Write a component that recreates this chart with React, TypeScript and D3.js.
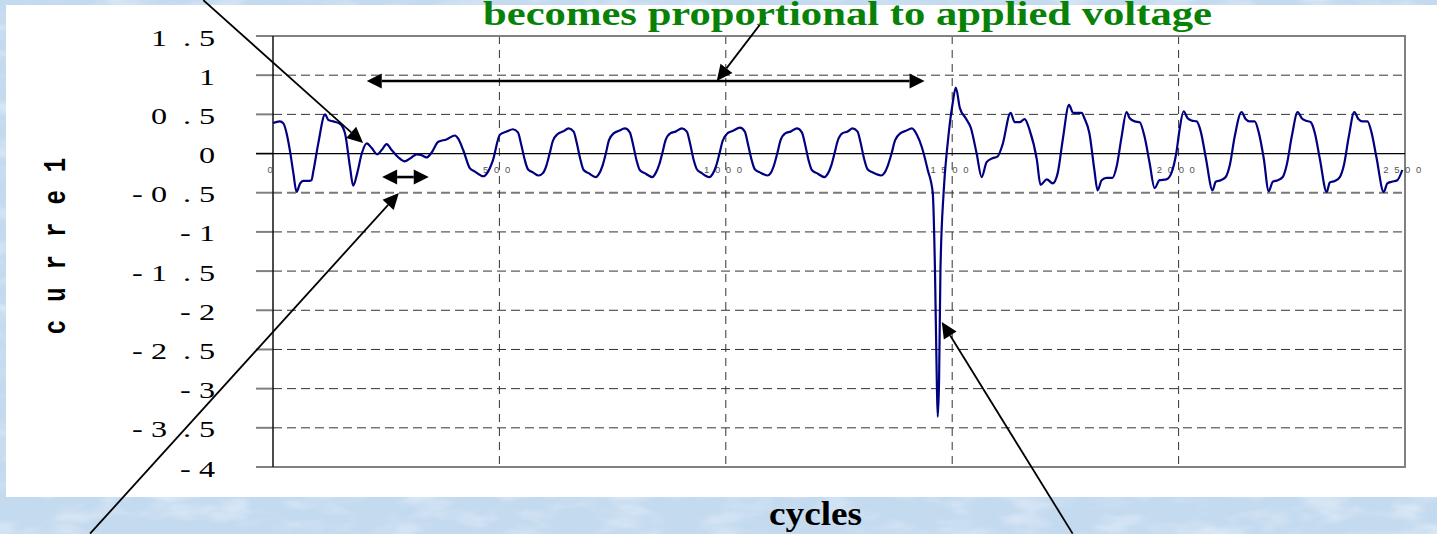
import React from "react";
import * as d3 from "d3";

const W = 1437;
const H = 534;

// ---------- axis ticks ----------
const xTicks = [0, 500, 1000, 1500, 2000, 2500];
const xTickLabels = ["0", "5 0 0", "1 0 0 0", "1 5 0 0", "2 0 0 0", "2 5 0 0"];
const yTicks = [1.5, 1, 0.5, 0, -0.5, -1, -1.5, -2, -2.5, -3, -3.5, -4];
const yTickLabels = [
  "1 . 5", "1", "0 . 5", "0", "- 0 . 5", "- 1", "- 1 . 5", "- 2", "- 2 . 5", "- 3", "- 3 . 5", "- 4",
];
const yTitleGlyphs = ["c", "u", "r", "r", "e", "1"];
const xTitle = "cycles";
const headline = "becomes proportional to applied voltage";

// ---------- series: [cycle, current] ----------
const transientPhase: [number, number][] = [
  [0, 0.39], [15, 0.41], [23, 0.385], [30, 0.26], [37, 0.05], [45, -0.25], [52, -0.49], [60, -0.38],
  [67, -0.35], [76, -0.35], [85, -0.34], [89, -0.23], [100, 0.13], [115, 0.5], [122, 0.43], [133, 0.41],
  [148, 0.38], [159, 0.26], [170, -0.17], [177, -0.41], [186, -0.25], [196, 0.0], [207, 0.13], [218, 0.07],
  [230, -0.01], [240, 0.045], [251, 0.12], [262, 0.045], [277, -0.05], [291, -0.1], [306, -0.05],
  [317, -0.01], [328, -0.02], [339, -0.05], [350, 0.01], [365, 0.15], [383, 0.18], [402, 0.23],
  [409, 0.19], [420, 0.045], [435, -0.19], [446, -0.23], [464, -0.29], [475, -0.23], [486, -0.08],
  [501, 0.24], [516, 0.28],
];

const proportionalPhase: [number, number][] = [
  [530, 0.31], [541, 0.27], [548, 0.12], [556, -0.08], [563, -0.2], [574, -0.24], [587, -0.28], [596, -0.25],
  [604, -0.15], [611, 0.0], [618, 0.16], [629, 0.25], [640, 0.28],
  [653, 0.32], [664, 0.28], [671, 0.13], [679, -0.08], [686, -0.21], [697, -0.25], [713, -0.3], [720, -0.26],
  [728, -0.15], [735, 0.0], [742, 0.17], [753, 0.26], [764, 0.29],
  [777, 0.32], [788, 0.27], [795, 0.12], [803, -0.09], [810, -0.21], [821, -0.25], [838, -0.3], [845, -0.25],
  [853, -0.14], [860, 0.01], [867, 0.17], [878, 0.26], [889, 0.28],
  [903, 0.32], [914, 0.28], [921, 0.13], [929, -0.08], [936, -0.2], [947, -0.25], [964, -0.3], [971, -0.26],
  [979, -0.15], [986, 0.0], [993, 0.16], [1004, 0.26], [1016, 0.29],
  [1031, 0.33], [1042, 0.28], [1049, 0.12], [1057, -0.08], [1064, -0.2], [1075, -0.24], [1092, -0.28],
  [1099, -0.25], [1107, -0.14], [1114, 0.01], [1121, 0.17], [1132, 0.26], [1143, 0.28],
  [1157, 0.32], [1168, 0.27], [1175, 0.12], [1183, -0.09], [1190, -0.21], [1201, -0.25], [1218, -0.3],
  [1225, -0.26], [1233, -0.15], [1240, 0.0], [1247, 0.16], [1258, 0.26], [1269, 0.28],
  [1280, 0.32], [1291, 0.28], [1298, 0.13], [1306, -0.08], [1313, -0.2], [1324, -0.24], [1343, -0.28],
  [1350, -0.25], [1358, -0.15], [1366, 0.0], [1374, 0.17], [1386, 0.26], [1398, 0.29],
  [1411, 0.32],
];

const breakdownSpike: [number, number][] = [
  [1422, 0.24], [1433, 0.08], [1446, -0.21], [1457, -0.5], [1462, -1.5], [1466, -2.9], [1468, -3.36],
  [1471, -2.9], [1474, -1.5], [1481, -0.5], [1490, 0.13], [1501, 0.64], [1508, 0.84], [1517, 0.58],
  [1530, 0.45], [1541, 0.33], [1554, 0.0], [1565, -0.3], [1576, -0.11], [1589, -0.06], [1600, -0.04],
  [1611, 0.11], [1629, 0.52], [1638, 0.4], [1649, 0.4], [1660, 0.44], [1671, 0.3], [1687, -0.08],
  [1695, -0.4], [1709, -0.33], [1722, -0.38], [1733, -0.25], [1744, 0.17], [1758, 0.62], [1767, 0.52],
  [1786, 0.52], [1792, 0.45], [1803, 0.26], [1814, -0.21], [1821, -0.47], [1830, -0.34], [1841, -0.31],
  [1854, -0.31], [1863, -0.17], [1874, 0.21], [1885, 0.53], [1892, 0.45], [1903, 0.41], [1914, 0.4],
  [1925, 0.21], [1936, -0.12], [1947, -0.44], [1958, -0.34], [1973, -0.33], [1984, -0.25], [1995, 0.01],
  [2002, 0.3],
];

const highCurrentPhase: [number, number][] = [
  [2011, 0.54], [2020, 0.45], [2029, 0.42], [2040, 0.41], [2049, 0.28], [2060, -0.05], [2075, -0.47],
  [2082, -0.36], [2093, -0.34], [2104, -0.3], [2113, -0.15], [2124, 0.22],
  [2139, 0.53], [2148, 0.44], [2157, 0.41], [2168, 0.41], [2177, 0.27], [2188, -0.06], [2199, -0.48],
  [2208, -0.36], [2219, -0.34], [2230, -0.3], [2239, -0.14], [2250, 0.22],
  [2263, 0.53], [2272, 0.45], [2281, 0.42], [2292, 0.4], [2301, 0.26], [2312, -0.07], [2327, -0.49],
  [2334, -0.37], [2345, -0.35], [2356, -0.3], [2365, -0.15], [2376, 0.22],
  [2388, 0.53], [2397, 0.44], [2406, 0.41], [2417, 0.41], [2426, 0.27], [2437, -0.05], [2453, -0.49],
  [2461, -0.38], [2471, -0.36], [2483, -0.34], [2494, -0.21],
];

// ---------- annotations (data units) ----------
const pointerArrows: { from: [number, number]; to: [number, number] }[] = [
  { from: [-154, 1.958], to: [199, 0.134] },
  { from: [1088, 1.741], to: [980, 0.925] },
  { from: [-404, -4.85], to: [278, -0.504] },
  { from: [1766, -4.85], to: [1477, -2.149] },
];
const spanArrows: { from: [number, number]; to: [number, number]; w: number }[] = [
  { from: [207, 0.925], to: [1439, 0.925], w: 2.6 },
  { from: [241, -0.3], to: [344, -0.3], w: 2.6 },
];

const PLOT = { left: 273, right: 1405, top: 36, bottom: 467 };

function head(tip: [number, number], from: [number, number], len: number, hw: number) {
  const dx = tip[0] - from[0];
  const dy = tip[1] - from[1];
  const d = Math.hypot(dx, dy);
  const ux = dx / d;
  const uy = dy / d;
  const bx = tip[0] - ux * len;
  const by = tip[1] - uy * len;
  const pts = [
    [tip[0], tip[1]],
    [bx - uy * hw, by + ux * hw],
    [bx + uy * hw, by - ux * hw],
  ];
  return { points: pts.map((p) => p.join(",")).join(" "), base: [bx, by] as [number, number] };
}

function glyphLayout(label: string) {
  const g = label.split(" ");
  const xs: number[] = new Array(g.length);
  let cur = 199;
  for (let i = g.length - 1; i >= 0; i--) {
    if (i === g.length - 1) {
      xs[i] = cur;
      continue;
    }
    const next = g[i + 1];
    if (next === ".") cur = 151;
    else if (g[i] === ".") cur = 183;
    else cur = cur - 19;
    xs[i] = cur;
  }
  return g.map((ch, i) => ({ ch, x: xs[i] }));
}

export default function App() {
  const x = d3.scaleLinear().domain([0, 2500]).range([PLOT.left, PLOT.right]);
  const y = d3.scaleLinear().domain([-4, 1.5]).range([PLOT.bottom, PLOT.top]);

  const line = d3
    .line<[number, number]>()
    .x((d) => x(d[0]))
    .y((d) => y(d[1]))
    .curve(d3.curveMonotoneX);

  const series = [...transientPhase, ...proportionalPhase, ...breakdownSpike, ...highCurrentPhase];

  const tickLeft = 256;

  return (
    <div style={{ position: "absolute", left: 0, top: 0 }}>
      <svg width={W} height={H} style={{ display: "block" }}>
        <defs>
          <filter id="tex" x="0" y="0" width="100%" height="100%">
            <feTurbulence type="fractalNoise" baseFrequency="0.02 0.05" numOctaves={3} seed={5} />
            <feColorMatrix
              type="matrix"
              values="0 0 0 0 0.9  0 0 0 0 0.94  0 0 0 0 0.99  0 0 0 1.2 -0.55"
            />
          </filter>
        </defs>
        <rect x={0} y={0} width={W} height={H} fill="#c4daef" />
        <rect x={0} y={0} width={W} height={H} filter="url(#tex)" />
        <rect x={6} y={5} width={W - 6} height={492} fill="#ffffff" />

        {/* horizontal gridlines */}
        {yTicks.map((t) =>
          t === 1.5 || t === -4 || t === 0 ? null : (
            <line
              key={"hg" + t}
              x1={PLOT.left}
              x2={PLOT.right}
              y1={y(t)}
              y2={y(t)}
              stroke={t === -0.5 ? "#7a7a7a" : "#333"}
              strokeWidth={t === -0.5 ? 2 : 1}
              strokeDasharray="9 5"
            />
          )
        )}
        {/* vertical gridlines */}
        {xTicks.slice(1, -1).map((t) => (
          <line
            key={"vg" + t}
            x1={x(t)}
            x2={x(t)}
            y1={PLOT.top}
            y2={PLOT.bottom}
            stroke="#333"
            strokeWidth={1}
            strokeDasharray="8 6"
          />
        ))}
        {/* y ticks */}
        {yTicks.map((t) => (
          <line
            key={"yt" + t}
            x1={tickLeft}
            x2={PLOT.left}
            y1={y(t)}
            y2={y(t)}
            stroke="#808080"
            strokeWidth={2}
          />
        ))}
        {/* frame */}
        <line x1={tickLeft} x2={PLOT.right + 1} y1={PLOT.top} y2={PLOT.top} stroke="#808080" strokeWidth={2} />
        <line x1={tickLeft} x2={PLOT.right + 1} y1={PLOT.bottom} y2={PLOT.bottom} stroke="#808080" strokeWidth={2} />
        <line x1={PLOT.right} x2={PLOT.right} y1={PLOT.top} y2={PLOT.bottom} stroke="#808080" strokeWidth={2} />
        <line x1={PLOT.left} x2={PLOT.left} y1={PLOT.top} y2={PLOT.bottom} stroke="#111" strokeWidth={1.5} />
        <line x1={tickLeft} x2={PLOT.right} y1={y(0)} y2={y(0)} stroke="#000" strokeWidth={1.2} />

        {/* y tick labels */}
        {yTicks.map((t, i) =>
          glyphLayout(yTickLabels[i]).map((g, j) => (
            <text
              key={"yl" + t + "_" + j}
              transform={`translate(${g.x},${y(t) + 9.5}) scale(1.4,1)`}
              fontFamily="'Liberation Serif', 'Times New Roman', serif"
              fontSize={23}
              fill="#000"
            >
              {g.ch}
            </text>
          ))
        )}

        {/* x tick labels */}
        {xTicks.map((t, i) => (
          <text
            key={"xl" + t}
            x={x(t) - 2}
            y={173}
            textAnchor="middle"
            fontFamily="'Liberation Sans', Arial, sans-serif"
            fontSize={9.5}
            letterSpacing={1.5}
            fill="#555"
          >
            {xTickLabels[i]}
          </text>
        ))}

        {/* data curve */}
        <path d={line(series) || ""} fill="none" stroke="#000080" strokeWidth={2.2} strokeLinejoin="round" />

        {/* annotations */}
        {pointerArrows.map((a, i) => {
          const f: [number, number] = [x(a.from[0]), y(a.from[1])];
          const t: [number, number] = [x(a.to[0]), y(a.to[1])];
          const h = head(t, f, 16, 7.5);
          return (
            <g key={"pa" + i}>
              <line x1={f[0]} y1={f[1]} x2={h.base[0]} y2={h.base[1]} stroke="#000" strokeWidth={1.8} />
              <polygon points={h.points} fill="#000" />
            </g>
          );
        })}
        {spanArrows.map((a, i) => {
          const f: [number, number] = [x(a.from[0]), y(a.from[1])];
          const t: [number, number] = [x(a.to[0]), y(a.to[1])];
          const h1 = head(t, f, 15, 7.5);
          const h2 = head(f, t, 15, 7.5);
          return (
            <g key={"sa" + i}>
              <line x1={h2.base[0]} y1={h2.base[1]} x2={h1.base[0]} y2={h1.base[1]} stroke="#000" strokeWidth={a.w} />
              <polygon points={h1.points} fill="#000" />
              <polygon points={h2.points} fill="#000" />
            </g>
          );
        })}

        {/* y axis title */}
        {yTitleGlyphs.map((ch, i) => (
          <text
            key={"yt_" + i}
            transform={`translate(65,${327 - i * 32.4}) rotate(-90) scale(1,1.3)`}
            textAnchor="middle"
            fontFamily="'Liberation Mono', 'Courier New', monospace"
            fontWeight="bold"
            fontSize={24}
            fill="#000"
          >
            {ch}
          </text>
        ))}

        {/* x axis title */}
        <text
          x={769}
          y={525}
          fontFamily="'Liberation Serif', 'Times New Roman', serif"
          fontWeight="bold"
          fontSize={33}
          textLength={93}
          lengthAdjust="spacingAndGlyphs"
          fill="#000"
        >
          {xTitle}
        </text>

        {/* headline */}
        <text
          x={483}
          y={25}
          fontFamily="'Liberation Serif', 'Times New Roman', serif"
          fontWeight="bold"
          fontSize={33}
          textLength={729}
          lengthAdjust="spacingAndGlyphs"
          fill="#078207"
        >
          {headline}
        </text>
      </svg>
    </div>
  );
}
